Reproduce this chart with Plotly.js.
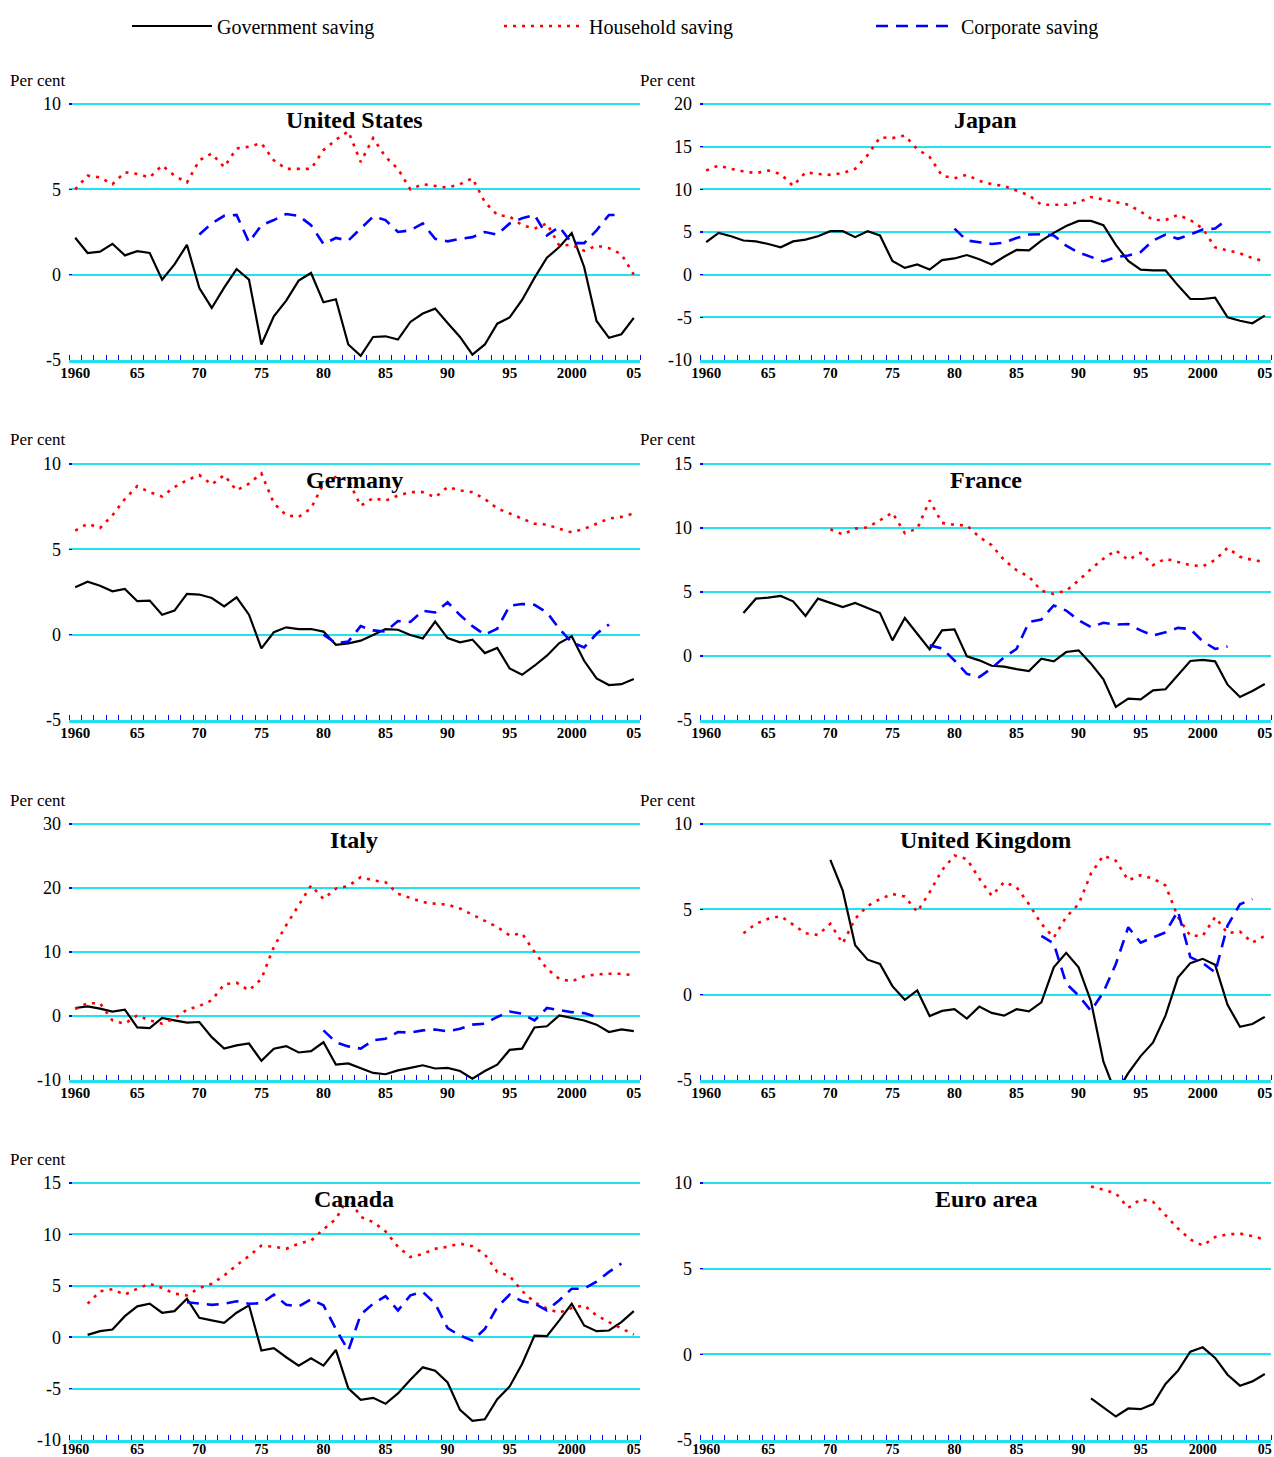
<!DOCTYPE html>
<html>
<head>
<meta charset="utf-8">
<script src="https://cdn.plot.ly/plotly-3.0.1.min.js"></script>
<style>html,body{margin:0;padding:0;background:#fff}#chart{width:1274px;height:1457px}</style>
</head>
<body>
<div id="chart"></div>
<script>
// ---------- DATA ----------
const TICK_YEARS = [1960, 1965, 1970, 1975, 1980, 1985, 1990, 1995, 2000, 2005];
const TICK_LABELS = ['1960', '65', '70', '75', '80', '85', '90', '95', '2000', '05'];
const SERIES_NAMES = ['Government saving', 'Household saving', 'Corporate saving'];
const PANEL_TITLES = ['United States', 'Japan', 'Germany', 'France', 'Italy', 'United Kingdom', 'Canada', 'Euro area'];

// United States (1960-2005; corporate 1970-2004)
const usGov = [2.16,1.27,1.35,1.81,1.13,1.38,1.27,-0.29,0.6,1.75,-0.78,-1.95,-0.76,0.33,-0.29,-4.09,-2.44,-1.52,-0.35,0.1,-1.62,-1.44,-4.09,-4.76,-3.65,-3.61,-3.8,-2.77,-2.28,-1.99,-2.83,-3.65,-4.68,-4.09,-2.87,-2.51,-1.48,-0.19,0.99,1.62,2.44,0.45,-2.71,-3.7,-3.49,-2.53];
const usHh = [5.0,5.8,5.7,5.3,6.0,5.9,5.7,6.4,5.8,5.4,6.7,7.1,6.3,7.4,7.5,7.7,6.7,6.2,6.2,6.2,7.3,7.9,8.4,6.6,8.0,6.9,6.2,5.0,5.3,5.2,5.1,5.3,5.65,4.25,3.5,3.4,2.9,2.7,3.0,1.7,1.75,1.4,1.7,1.55,1.2,0.0];
const usCorp = [2.35,3.0,3.45,3.5,1.9,2.9,3.2,3.55,3.45,2.9,1.8,2.15,2.0,2.7,3.4,3.2,2.5,2.6,3.0,2.1,1.95,2.1,2.2,2.5,2.35,3.0,3.3,3.5,2.3,2.8,1.85,1.85,2.6,3.5,3.5];

// Japan (1960-2005; corporate 1980-2002)
const jpGov = [3.8,4.9,4.5,4.0,3.9,3.6,3.2,3.9,4.1,4.5,5.1,5.1,4.4,5.1,4.6,1.6,0.8,1.2,0.6,1.7,1.9,2.3,1.8,1.2,2.1,2.9,2.85,4.0,4.9,5.7,6.3,6.3,5.8,3.5,1.6,0.6,0.5,0.5,-1.25,-2.85,-2.85,-2.7,-5.0,-5.4,-5.7,-4.8];
const jpHh = [12.2,12.8,12.4,12.1,11.9,12.2,11.8,10.4,12.0,11.8,11.7,11.9,12.4,14.0,16.1,16.0,16.3,14.7,13.8,11.6,11.3,11.7,11.0,10.6,10.4,9.85,9.3,8.2,8.2,8.2,8.5,9.1,8.8,8.5,8.2,7.4,6.4,6.4,7.0,6.4,5.4,3.2,2.85,2.5,1.95,1.55];
const jpCorp = [5.4,4.0,3.8,3.6,3.75,4.3,4.7,4.75,4.6,3.4,2.6,2.05,1.55,2.05,2.25,2.65,4.0,4.7,4.2,4.7,5.3,5.4,6.5];

// Germany (1960-2005; corporate 1980-2003)
const deGov = [2.78,3.1,2.87,2.54,2.68,1.96,2.0,1.17,1.41,2.39,2.35,2.15,1.66,2.19,1.17,-0.8,0.14,0.43,0.33,0.33,0.18,-0.59,-0.51,-0.35,-0.02,0.33,0.29,-0.02,-0.22,0.76,-0.2,-0.45,-0.29,-1.08,-0.78,-1.98,-2.35,-1.82,-1.23,-0.49,-0.1,-1.53,-2.56,-2.95,-2.9,-2.6];
const deHh = [6.1,6.5,6.25,7.0,7.95,8.7,8.35,8.1,8.65,9.05,9.35,8.8,9.35,8.45,8.85,9.45,7.7,7.0,6.9,7.4,8.85,9.25,9.05,7.55,8.0,7.85,8.15,8.35,8.35,8.05,8.65,8.45,8.35,7.95,7.4,7.1,6.8,6.5,6.45,6.2,6.0,6.2,6.5,6.8,6.9,7.1];
const deCorp = [0.0,-0.5,-0.4,0.5,0.25,0.18,0.8,0.75,1.4,1.3,1.9,1.15,0.5,0.0,0.35,1.7,1.8,1.75,1.3,0.35,-0.45,-0.75,0.05,0.6];

// France (government 1963-2005; household 1970-2005; corporate 1978-2002)
const frGov = [3.36,4.48,4.56,4.69,4.27,3.13,4.48,4.17,3.83,4.14,3.78,3.36,1.22,2.97,1.74,0.52,2.0,2.08,-0.03,-0.34,-0.76,-0.83,-1.02,-1.17,-0.21,-0.42,0.31,0.44,-0.6,-1.82,-3.98,-3.33,-3.39,-2.68,-2.6,-1.51,-0.39,-0.31,-0.42,-2.24,-3.2,-2.73,-2.19];
const frHh = [9.9,9.5,9.95,10.05,10.6,11.2,9.6,9.95,12.15,10.4,10.25,10.2,9.3,8.65,7.5,6.7,6.2,5.1,4.85,5.1,5.9,6.8,7.6,8.25,7.5,8.05,7.1,7.6,7.35,7.1,7.0,7.5,8.45,7.75,7.5,7.35];
const frCorp = [0.83,0.6,-0.35,-1.4,-1.65,-0.95,-0.1,0.55,2.65,2.85,3.95,3.55,2.8,2.25,2.6,2.45,2.5,2.0,1.6,1.85,2.2,2.1,1.15,0.55,0.75];

// Italy (1960-2005; corporate 1980-2002)
const itGov = [1.25,1.5,1.15,0.7,1.0,-1.77,-1.88,-0.3,-0.68,-1.04,-0.94,-3.3,-5.1,-4.6,-4.3,-7.0,-5.1,-4.7,-5.7,-5.5,-4.1,-7.6,-7.4,-8.2,-8.9,-9.1,-8.5,-8.1,-7.7,-8.2,-8.1,-8.6,-9.8,-8.6,-7.6,-5.3,-5.1,-1.8,-1.6,0.1,-0.3,-0.7,-1.35,-2.5,-2.1,-2.35];
const itHh = [1.1,2.0,2.0,-0.7,-1.2,0.1,-0.7,-1.2,-0.4,1.0,1.55,2.45,4.95,5.2,4.0,5.8,10.8,14.2,17.3,20.4,18.3,19.9,20.3,21.7,21.2,20.9,19.1,18.4,17.8,17.55,17.4,16.8,15.8,14.9,13.9,12.6,12.9,10.0,7.4,5.8,5.4,6.2,6.5,6.6,6.6,6.35];
const itCorp = [-2.25,-4.1,-4.75,-5.1,-3.8,-3.55,-2.5,-2.6,-2.25,-2.1,-2.4,-2.0,-1.35,-1.2,-0.15,0.7,0.35,-0.7,1.25,0.9,0.6,0.45,-0.15];

// United Kingdom (government 1970-2005; household 1963-2005; corporate 1987-2004)
const ukGov = [7.9,6.1,2.9,2.05,1.8,0.5,-0.3,0.25,-1.25,-0.95,-0.85,-1.4,-0.7,-1.07,-1.23,-0.85,-0.98,-0.45,1.6,2.45,1.6,-0.4,-3.93,-5.8,-4.6,-3.6,-2.8,-1.23,1.0,1.85,2.1,1.75,-0.6,-1.88,-1.72,-1.3];
const ukHh = [3.6,4.15,4.45,4.6,4.1,3.6,3.5,4.15,3.0,4.45,5.2,5.6,5.9,5.75,4.85,6.0,7.3,8.15,7.95,6.8,5.8,6.6,6.3,5.3,4.15,3.35,4.55,5.3,7.1,8.15,7.85,6.7,7.0,6.8,6.4,4.55,3.45,3.45,4.55,3.6,3.7,3.05,3.45];
const ukCorp = [3.45,3.0,0.65,-0.05,-0.95,0.15,1.8,3.95,3.05,3.35,3.65,4.9,2.2,1.85,1.3,4.05,5.3,5.6];

// Canada (government and household 1961-2005; corporate 1969-2004)
const caGov = [0.23,0.59,0.75,2.05,3.0,3.26,2.38,2.54,3.75,1.89,1.63,1.4,2.38,3.1,-1.3,-1.07,-1.95,-2.77,-2.05,-2.77,-1.24,-4.98,-6.09,-5.9,-6.48,-5.47,-4.14,-2.93,-3.26,-4.4,-7.07,-8.14,-7.98,-6.03,-4.79,-2.6,0.16,0.1,1.63,3.26,1.14,0.59,0.65,1.47,2.54];
const caHh = [3.26,4.46,4.66,4.14,4.72,5.2,4.79,4.23,4.07,4.79,5.2,6.0,7.0,7.9,8.9,8.8,8.6,9.1,9.4,10.5,11.5,13.6,11.7,11.2,10.3,8.8,7.8,8.1,8.6,8.8,9.1,8.85,8.05,6.35,5.95,4.5,3.4,2.77,2.38,2.84,3.1,2.12,1.47,0.88,0.26];
const caCorp = [3.4,3.3,3.15,3.26,3.5,3.26,3.3,4.14,3.15,3.0,3.68,3.1,0.8,-1.3,2.2,3.26,4.0,2.6,4.07,4.4,3.26,0.88,0.16,-0.33,0.8,2.93,4.14,3.5,3.26,2.6,3.6,4.72,4.72,5.4,6.35,7.17];

// Euro area (1991-2005)
const euGov = [-2.57,-3.1,-3.63,-3.16,-3.2,-2.9,-1.73,-0.96,0.16,0.41,-0.21,-1.19,-1.83,-1.58,-1.15];
const euHh = [9.8,9.6,9.4,8.55,9.05,8.9,8.1,7.35,6.7,6.35,6.85,7.0,7.05,6.9,6.7];

// ---------- PANELS (value arrays with their first year) ----------
const panels = [
  {title: PANEL_TITLES[0], range: [-5, 10], dtick: 5, perCent: true,
   gov: [1960, usGov], hh: [1960, usHh], corp: [1970, usCorp]},
  {title: PANEL_TITLES[1], range: [-10, 20], dtick: 5, perCent: true,
   gov: [1960, jpGov], hh: [1960, jpHh], corp: [1980, jpCorp]},
  {title: PANEL_TITLES[2], range: [-5, 10], dtick: 5, perCent: true,
   gov: [1960, deGov], hh: [1960, deHh], corp: [1980, deCorp]},
  {title: PANEL_TITLES[3], range: [-5, 15], dtick: 5, perCent: true,
   gov: [1963, frGov], hh: [1970, frHh], corp: [1978, frCorp]},
  {title: PANEL_TITLES[4], range: [-10, 30], dtick: 10, perCent: true,
   gov: [1960, itGov], hh: [1960, itHh], corp: [1980, itCorp]},
  {title: PANEL_TITLES[5], range: [-5, 10], dtick: 5, perCent: true,
   gov: [1970, ukGov], hh: [1963, ukHh], corp: [1987, ukCorp]},
  {title: PANEL_TITLES[6], range: [-10, 15], dtick: 5, perCent: true,
   gov: [1961, caGov], hh: [1961, caHh], corp: [1969, caCorp]},
  {title: PANEL_TITLES[7], range: [-5, 10], dtick: 5, perCent: false,
   gov: [1991, euGov], hh: [1991, euHh], corp: null}
];

// ---------- LAYOUT GEOMETRY (pixels) ----------
const W = 1274, H = 1457;
const colX = [[69, 640], [700, 1271]];
const rowY = [[104, 360], [464, 720], [824, 1080], [1183, 1440]];
const TOP_PAD = 3; // extra px above the top gridline so it is drawn
const SERIF = 'Liberation Serif, Times New Roman, serif';
const GRID = '#22e2f2';
const BLUE = '#0000ff';
const RED = '#ff0000';

const styles = {
  gov: {color: '#000000', width: 2.2, dash: 'solid'},
  hh: {color: RED, width: 2.6, dash: '3px,6px'},
  corp: {color: BLUE, width: 2.6, dash: '12px,8px'}
};
const keys = ['gov', 'hh', 'corp'];

const traces = [];
const layout = {
  width: W, height: H,
  margin: {l: 0, r: 0, t: 0, b: 0, autoexpand: false},
  paper_bgcolor: '#ffffff', plot_bgcolor: '#ffffff',
  font: {family: SERIF, color: '#000000'},
  showlegend: true,
  legend: {
    orientation: 'h', x: 127 / W, xanchor: 'left', y: 1 - 26 / H, yanchor: 'middle',
    font: {family: SERIF, size: 20, color: '#000'},
    entrywidth: 277, entrywidthmode: 'pixels', itemwidth: 80,
    bgcolor: 'rgba(0,0,0,0)', traceorder: 'normal'
  },
  annotations: []
};

panels.forEach((p, i) => {
  const n = i + 1;
  const col = i % 2, row = Math.floor(i / 2);
  const xs = n === 1 ? 'x' : 'x' + n;
  const ys = n === 1 ? 'y' : 'y' + n;
  const xName = n === 1 ? 'xaxis' : 'xaxis' + n;
  const yName = n === 1 ? 'yaxis' : 'yaxis' + n;

  keys.forEach((k, j) => {
    if (!p[k]) return;
    const start = p[k][0], vals = p[k][1];
    traces.push({
      type: 'scatter', mode: 'lines',
      x: vals.map((_, t) => start + t), y: vals,
      xaxis: xs, yaxis: ys,
      name: SERIES_NAMES[j], legendgroup: k,
      showlegend: i === 0,
      line: styles[k], hoverinfo: 'skip'
    });
  });

  const yTicks = [];
  for (let v = p.range[0]; v <= p.range[1]; v += p.dtick) yTicks.push(v);
  const plotH = rowY[row][1] - rowY[row][0];
  const span = p.range[1] - p.range[0];
  const topExtra = span * TOP_PAD / plotH;
  const isBottomRow = row === 3;

  layout[xName] = {
    domain: [colX[col][0] / W, colX[col][1] / W],
    anchor: ys, range: [1959.5, 2005.5],
    tickmode: 'array', tickvals: TICK_YEARS, ticktext: TICK_LABELS,
    ticks: '', showgrid: false, zeroline: false,
    showline: true, linecolor: GRID, linewidth: 3,
    tickfont: {family: SERIF, size: isBottomRow ? 14 : 15, weight: 'bold', color: '#000'},
    ticklabelstandoff: isBottomRow ? -6 : -3,
    minor: {tickmode: 'linear', tick0: 1959.5, dtick: 1, ticks: 'inside', ticklen: 5, tickcolor: BLUE, tickwidth: 1, showgrid: false},
    fixedrange: true
  };
  layout[yName] = {
    domain: [1 - rowY[row][1] / H, 1 - (rowY[row][0] - TOP_PAD) / H],
    anchor: xs, range: [p.range[0], p.range[1] + topExtra],
    tickmode: 'array', tickvals: yTicks, ticktext: yTicks.map(v => String(v)),
    showgrid: true, gridcolor: GRID, gridwidth: 2, zeroline: false,
    ticks: 'inside', ticklen: 3, tickcolor: BLUE, tickwidth: 1.5,
    tickfont: {family: SERIF, size: 18, color: '#000'},
    ticklabelstandoff: 7, showline: false, fixedrange: true
  };

  layout.annotations.push({
    text: '<b>' + p.title + '</b>', xref: xs + ' domain', yref: 'paper',
    x: 0.5, y: 1 - (rowY[row][0] + 1) / H, xanchor: 'center', yanchor: 'top', showarrow: false,
    font: {family: SERIF, size: 24, color: '#000'}
  });
  if (p.perCent) {
    layout.annotations.push({
      text: 'Per cent', xref: 'paper', yref: 'paper',
      x: (col === 0 ? 8 : 638) / W, y: 1 - (rowY[row][0] - 24) / H, xanchor: 'left', yanchor: 'middle',
      showarrow: false, font: {family: SERIF, size: 17, color: '#000', weight: 'normal'}
    });
  }
});

Plotly.newPlot('chart', traces, layout, {displayModeBar: false, staticPlot: true});
</script>
</body>
</html>
